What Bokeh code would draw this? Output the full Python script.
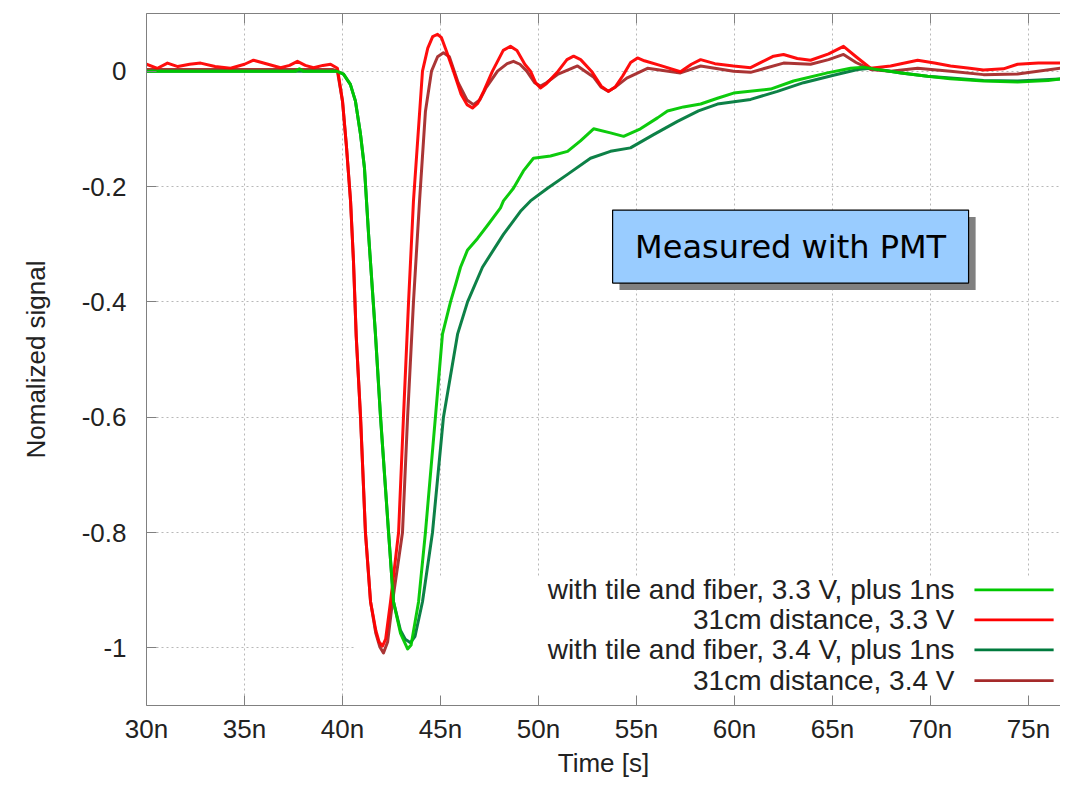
from bokeh.plotting import figure
from bokeh.models import (ColumnDataSource, FixedTicker, LinearAxis, BoxAnnotation,
                          Label, Range1d)
from bokeh.embed import file_html
from bokeh.resources import INLINE

# ---------------- data (time in ns, normalized signal) ----------------
g33_t = [30.0, 37.6, 37.8, 38.0, 39.7, 40.05, 40.4, 40.66, 40.92, 41.12, 41.33, 41.68,
         41.94, 42.35, 42.6, 42.96, 43.32, 43.5, 43.88, 44.23, 44.74, 45.1, 45.51, 45.77,
         46.02, 46.38, 46.89, 47.45, 48.06, 48.21, 48.72, 49.23, 49.74, 50.61, 51.48,
         52.14, 52.81, 53.67, 54.34, 55.2, 56.07, 56.58, 57.4, 58.27, 59.13, 59.95,
         61.84, 63.01, 64.74, 65.92, 66.58, 67.09, 68.5, 69.85, 71.0, 72.7, 74.44, 76.0,
         77.45]
g33_v = [0.0, 0.0, 0.004, 0.0, 0.0, -0.005, -0.023, -0.052, -0.11, -0.168, -0.283, -0.456,
         -0.6, -0.8, -0.92, -0.975, -1.002, -0.995, -0.92, -0.8, -0.6, -0.456, -0.4, -0.37,
         -0.34, -0.31, -0.29, -0.265, -0.237, -0.225, -0.203, -0.173, -0.151, -0.147,
         -0.139, -0.121, -0.1, -0.107, -0.113, -0.1, -0.081, -0.069, -0.062, -0.057,
         -0.047, -0.038, -0.031, -0.017, -0.003, 0.005, 0.007, 0.004, -0.003, -0.009,
         -0.013, -0.017, -0.019, -0.016, -0.01]

g34_t = [30.0, 39.7, 40.05, 40.4, 40.66, 40.92, 41.12, 41.33, 41.68, 41.94, 42.35, 42.6,
         42.96, 43.2, 43.47, 43.7, 44.08, 44.59, 45.15, 45.87, 46.38, 47.14, 48.21, 49.08,
         49.59, 50.46, 51.48, 52.65, 53.67, 54.69, 55.87, 57.09, 58.16, 59.13, 60.82,
         62.19, 63.52, 65.05, 66.28, 66.94, 68.5, 69.85, 72.7, 74.44, 77.45]
g34_v = [0.0, 0.0, -0.005, -0.023, -0.052, -0.11, -0.168, -0.283, -0.456, -0.6, -0.8,
         -0.92, -0.97, -0.985, -0.991, -0.98, -0.92, -0.8, -0.6, -0.456, -0.4, -0.34,
         -0.283, -0.243, -0.225, -0.203, -0.179, -0.151, -0.139, -0.133, -0.11, -0.087,
         -0.069, -0.057, -0.049, -0.035, -0.02, -0.007, 0.003, 0.005, -0.003, -0.009,
         -0.016, -0.017, -0.012]

r33_t = [30.0, 30.56, 31.07, 31.6, 32.2, 32.76, 33.5, 34.29, 35.0, 35.46, 36.2, 36.84,
         37.3, 37.7, 38.1, 38.52, 39.0, 39.39, 39.74, 40.0, 40.2, 40.41, 40.56, 40.7,
         40.92, 41.17, 41.43, 41.7, 41.87, 42.04, 42.2, 42.45, 42.86, 43.11, 43.37, 43.62,
         44.08, 44.35, 44.6, 44.85, 45.05, 45.3, 45.66, 46.05, 46.35, 46.63, 46.9, 47.2,
         47.65, 48.2, 48.57, 48.9, 49.3, 49.59, 49.85, 50.1, 50.4, 51.0, 51.45, 51.79,
         52.15, 52.7, 53.2, 53.57, 53.9, 54.3, 54.7, 55.05, 55.4, 56.2, 57.24, 57.8,
         58.27, 59.0, 59.95, 60.82, 61.4, 61.99, 62.5, 63.2, 63.88, 64.8, 65.56, 66.2,
         66.94, 67.96, 69.34, 70.2, 71.02, 72.0, 72.7, 73.72, 74.44, 75.5, 76.63, 77.45]
r33_v = [0.012, 0.005, 0.014, 0.008, 0.012, 0.014, 0.008, 0.005, 0.012, 0.019, 0.012,
         0.006, 0.01, 0.017, 0.01, 0.006, 0.01, 0.012, 0.005, -0.052, -0.13, -0.225,
         -0.33, -0.46, -0.6, -0.8, -0.92, -0.97, -0.99, -0.997, -0.985, -0.92, -0.8, -0.6,
         -0.4, -0.225, 0.0, 0.04, 0.06, 0.064, 0.058, 0.035, 0.0, -0.04, -0.058, -0.064,
         -0.056, -0.035, 0.0, 0.036, 0.043, 0.036, 0.012, 0.0, -0.02, -0.029, -0.022,
         0.0, 0.02, 0.026, 0.02, 0.0, -0.026, -0.035, -0.028, -0.008, 0.015, 0.023,
         0.018, 0.01, -0.001, 0.012, 0.02, 0.013, 0.009, 0.006, 0.016, 0.026, 0.029,
         0.022, 0.019, 0.03, 0.043, 0.025, 0.005, 0.009, 0.019, 0.014, 0.009, 0.005,
         0.002, 0.004, 0.012, 0.014, 0.014, 0.012]

r34_t = [30.0, 33.0, 36.0, 39.49, 39.74, 40.0, 40.2, 40.41, 40.56, 40.7, 40.92, 41.17,
         41.43, 41.7, 41.9, 42.09, 42.3, 42.55, 43.06, 43.32, 43.62, 43.93, 44.23, 44.54,
         44.85, 45.15, 45.45, 45.9, 46.35, 46.68, 47.0, 47.3, 47.91, 48.4, 48.72, 49.05,
         49.4, 49.8, 50.1, 50.4, 51.0, 51.99, 52.8, 53.2, 53.57, 53.9, 54.5, 55.56,
         57.24, 58.27, 59.95, 60.82, 62.5, 63.88, 64.8, 65.56, 66.2, 66.94, 67.96, 69.34,
         71.02, 72.7, 74.44, 76.63, 77.45]
r34_v = [0.003, 0.003, 0.003, 0.003, 0.0, -0.052, -0.13, -0.225, -0.33, -0.46, -0.6, -0.8,
         -0.92, -0.975, -0.998, -1.009, -0.99, -0.92, -0.8, -0.6, -0.4, -0.225, -0.07,
         0.0, 0.025, 0.032, 0.025, -0.02, -0.05, -0.058, -0.05, -0.03, 0.0, 0.013, 0.017,
         0.012, 0.0, -0.02, -0.026, -0.02, -0.005, 0.009, -0.01, -0.028, -0.035, -0.028,
         -0.012, 0.005, -0.003, 0.009, 0.0, -0.002, 0.014, 0.012, 0.02, 0.029, 0.015,
         0.003, 0.0, 0.005, 0.0, -0.006, -0.005, 0.005, 0.005]

series_names = ["with tile and fiber, 3.3 V, plus 1ns", "31cm distance, 3.3 V",
                "with tile and fiber, 3.4 V, plus 1ns", "31cm distance, 3.4 V"]
series_colors = ["#00c800", "#ff0000", "#007a3d", "#a52a2a"]

x_ticks = [30, 35, 40, 45, 50, 55, 60, 65, 70, 75]
x_tick_labels = ["30n", "35n", "40n", "45n", "50n", "55n", "60n", "65n", "70n", "75n"]
y_ticks = [0, -0.2, -0.4, -0.6, -0.8, -1]
y_tick_labels = ["0", "-0.2", "-0.4", "-0.6", "-0.8", "-1"]

FONT = "Liberation Sans"
AXIS_COL = "#808080"

p = figure(width=1060, height=781, output_backend="svg", toolbar_location=None,
           x_range=Range1d(30, 76.63), y_range=Range1d(-1.1, 0.1),
           min_border_left=146, min_border_top=13, min_border_right=0, min_border_bottom=76,
           x_axis_label="Time [s]", y_axis_label="Nomalized signal")
p.outline_line_color = None
p.background_fill_color = "white"

# axes
for ax in (p.xaxis[0], p.yaxis[0]):
    ax.axis_line_color = AXIS_COL
    ax.major_tick_line_color = AXIS_COL
    ax.major_tick_in = 10
    ax.major_tick_out = 0
    ax.minor_tick_line_color = None
    ax.major_label_text_font = FONT
    ax.major_label_text_font_size = "26px"
    ax.major_label_text_color = "#222222"
    ax.axis_label_text_font = FONT
    ax.axis_label_text_font_size = "26px"
    ax.axis_label_text_font_style = "normal"
    ax.axis_label_text_color = "#222222"

p.xaxis[0].ticker = FixedTicker(ticks=x_ticks)
p.xaxis[0].major_label_overrides = dict(zip(x_ticks, x_tick_labels))
p.xaxis[0].major_label_standoff = 8
p.xaxis[0].axis_label_standoff = 1

p.yaxis[0].ticker = FixedTicker(ticks=y_ticks)
p.yaxis[0].major_label_overrides = dict(zip(y_ticks, y_tick_labels))
p.yaxis[0].major_label_standoff = 20
p.yaxis[0].axis_label_standoff = 28

top = LinearAxis(ticker=FixedTicker(ticks=x_ticks), axis_line_color=AXIS_COL,
                 major_tick_line_color=AXIS_COL, major_tick_in=10, major_tick_out=0,
                 minor_tick_line_color=None, major_label_text_font_size="0px",
                 major_label_standoff=0,
                 major_label_overrides={t: "" for t in x_ticks})
p.add_layout(top, "above")

# grid
for g in (p.xgrid[0], p.ygrid[0]):
    g.grid_line_color = "#b8b8b8"
    g.grid_line_dash = "2 3"
    g.grid_line_width = 1
p.xgrid[0].ticker = FixedTicker(ticks=x_ticks)
p.ygrid[0].ticker = FixedTicker(ticks=y_ticks)

# opaque key area (hides grid only)
key_bg = BoxAnnotation(left=40.67, right=76.63, top=-0.8786, bottom=-1.1,
                       fill_color="white", fill_alpha=1.0, line_color=None, level="underlay")
p.add_layout(key_bg)

# curves
data = [(g33_t, g33_v), (r33_t, r33_v), (g34_t, g34_v), (r34_t, r34_v)]
for i in [3, 2, 1, 0]:
    t, v = data[i]
    src = ColumnDataSource(dict(t=t, v=v))
    p.line("t", "v", source=src, line_color=series_colors[i], line_width=3,
           line_join="round", line_alpha=0.95)

# custom key: right-aligned text, sample line on the right
key_text_x = 71.22
key_rows_y = [-0.8995, -0.9515, -1.0035, -1.057]
for name, col, yy in zip(series_names, series_colors, key_rows_y):
    p.add_layout(Label(x=key_text_x, y=yy, text=name, text_align="right",
                       text_baseline="middle", text_font=FONT, text_font_size="28px",
                       text_color="#222222"))
    p.add_layout(BoxAnnotation(left=72.24, right=76.28, top=yy + 0.0024, bottom=yy - 0.0024,
                               fill_color=col, fill_alpha=1.0, line_color=None))

# "Measured with PMT" box with shadow
p.add_layout(BoxAnnotation(left=54.13, right=72.30, top=-0.253, bottom=-0.3795,
                           fill_color="#808080", fill_alpha=1.0, line_color=None))
p.add_layout(BoxAnnotation(left=53.78, right=71.94, top=-0.2409, bottom=-0.3674,
                           fill_color="#99ccff", fill_alpha=1.0, line_color="black",
                           line_width=1.2, line_alpha=1.0))
p.add_layout(Label(x=62.86, y=-0.305, text="Measured with PMT", text_align="center",
                   text_baseline="middle", text_font="DejaVu Sans", text_font_size="32px",
                   text_color="black"))

open("out.html", "w").write(file_html(p, INLINE))
